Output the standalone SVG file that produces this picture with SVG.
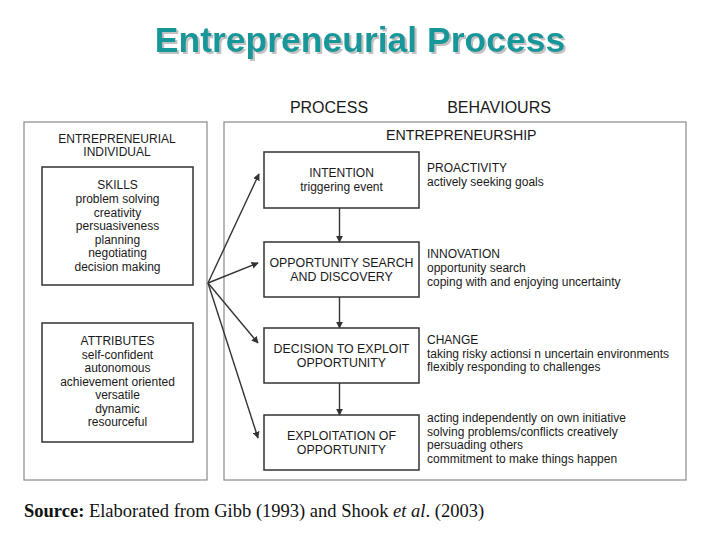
<svg xmlns="http://www.w3.org/2000/svg" width="720" height="540" viewBox="0 0 720 540">
<defs>
<filter id="sh" x="-5%" y="-20%" width="110%" height="140%">
<feDropShadow dx="2" dy="2" stdDeviation="0.6" flood-color="#bbbbbb" flood-opacity="0.9"/>
</filter>
<marker id="ah" viewBox="0 0 10 10" refX="9" refY="5" markerWidth="7" markerHeight="7" markerUnits="userSpaceOnUse" orient="auto">
<path d="M0,0 L10,5 L0,10 z" fill="#333"/>
</marker>
</defs>
<style>
.outer{fill:none;stroke:#8a8a8a;stroke-width:1.2}
.inner{fill:#fff;stroke:#333;stroke-width:1.5}
.t{font-family:"Liberation Sans",Arial,sans-serif;font-size:12px;fill:#1a1a1a}
.c{text-anchor:middle}
.h{font-family:"Liberation Sans",Arial,sans-serif;font-size:16px;fill:#1a1a1a}
.conn{stroke:#333;stroke-width:1.4;fill:none;marker-end:url(#ah)}
</style>
<rect width="720" height="540" fill="#fff"/>
<text x="360" y="52" text-anchor="middle" font-family="'Liberation Sans',Arial,sans-serif" font-weight="bold" font-size="35.5" fill="#17979a" filter="url(#sh)">Entrepreneurial Process</text>

<text class="h" x="329" y="113" text-anchor="middle">PROCESS</text>
<text class="h" x="499" y="113" text-anchor="middle">BEHAVIOURS</text>

<g id="individual">
<rect class="outer" x="24" y="122" width="183" height="358"/>
<text class="t c" x="117" y="143">ENTREPRENEURIAL</text>
<text class="t c" x="117" y="156">INDIVIDUAL</text>
</g>
<g id="skills">
<rect class="inner" x="42" y="167" width="151" height="118"/>
<text class="t c" x="117.5" y="189">SKILLS</text>
<text class="t c" x="117.5" y="203">problem solving</text>
<text class="t c" x="117.5" y="216.5">creativity</text>
<text class="t c" x="117.5" y="230">persuasiveness</text>
<text class="t c" x="117.5" y="243.5">planning</text>
<text class="t c" x="117.5" y="257">negotiating</text>
<text class="t c" x="117.5" y="270.5">decision making</text>
</g>
<g id="attributes">
<rect class="inner" x="42" y="323" width="151" height="119"/>
<text class="t c" x="117.5" y="345">ATTRIBUTES</text>
<text class="t c" x="117.5" y="358.5">self-confident</text>
<text class="t c" x="117.5" y="372">autonomous</text>
<text class="t c" x="117.5" y="385.5">achievement oriented</text>
<text class="t c" x="117.5" y="399">versatile</text>
<text class="t c" x="117.5" y="412.5">dynamic</text>
<text class="t c" x="117.5" y="426">resourceful</text>
</g>

<g id="entrepreneurship">
<rect class="outer" x="224" y="122" width="462" height="358"/>
<text class="t" x="386" y="140" style="font-size:14.2px">ENTREPRENEURSHIP</text>
</g>
<g id="intention">
<rect class="inner" x="264" y="152" width="155" height="56"/>
<text class="t c" x="341.5" y="177">INTENTION</text>
<text class="t c" x="341.5" y="190.5">triggering event</text>
</g>
<g id="search">
<rect class="inner" x="264" y="242" width="155" height="55"/>
<text class="t c" x="341.5" y="267" style="font-size:12.4px">OPPORTUNITY SEARCH</text>
<text class="t c" x="341.5" y="280.5" style="font-size:12.4px">AND DISCOVERY</text>
</g>
<g id="decision">
<rect class="inner" x="264" y="328" width="155" height="55"/>
<text class="t c" x="341.5" y="353" style="font-size:12.4px">DECISION TO EXPLOIT</text>
<text class="t c" x="341.5" y="366.5" style="font-size:12.4px">OPPORTUNITY</text>
</g>
<g id="exploitation">
<rect class="inner" x="264" y="415" width="155" height="55"/>
<text class="t c" x="341.5" y="440" style="font-size:12.4px">EXPLOITATION OF</text>
<text class="t c" x="341.5" y="453.5" style="font-size:12.4px">OPPORTUNITY</text>
</g>

<g id="proactivity">
<text class="t" x="427" y="172">PROACTIVITY</text>
<text class="t" x="427" y="185.5">actively seeking goals</text>
</g>
<g id="innovation">
<text class="t" x="427" y="258">INNOVATION</text>
<text class="t" x="427" y="272">opportunity search</text>
<text class="t" x="427" y="286">coping with and enjoying uncertainty</text>
</g>
<g id="change">
<text class="t" x="427" y="344">CHANGE</text>
<text class="t" x="427" y="357.5">taking risky actionsi n uncertain environments</text>
<text class="t" x="427" y="371">flexibly responding to challenges</text>
</g>
<g id="other">
<text class="t" x="427" y="422">acting independently on own initiative</text>
<text class="t" x="427" y="435.5">solving problems/conflicts creatively</text>
<text class="t" x="427" y="449">persuading others</text>
<text class="t" x="427" y="462.5">commitment to make things happen</text>
</g>

<g id="connectors">
<line class="conn" x1="208" y1="283" x2="259" y2="174"/>
<line class="conn" x1="208" y1="283" x2="258" y2="263"/>
<line class="conn" x1="208" y1="283" x2="258" y2="343"/>
<line class="conn" x1="208" y1="283" x2="258" y2="438"/>
<line class="conn" x1="339.5" y1="208" x2="339.5" y2="242"/>
<line class="conn" x1="339.5" y1="297" x2="339.5" y2="328"/>
<line class="conn" x1="339.5" y1="383" x2="339.5" y2="415"/>
</g>

<text x="24" y="517" font-family="'Liberation Serif','Times New Roman',serif" font-size="18.5" fill="#111"><tspan font-weight="bold">Source:</tspan> Elaborated from Gibb (1993) and Shook <tspan font-style="italic">et al</tspan>. (2003)</text>
</svg>
